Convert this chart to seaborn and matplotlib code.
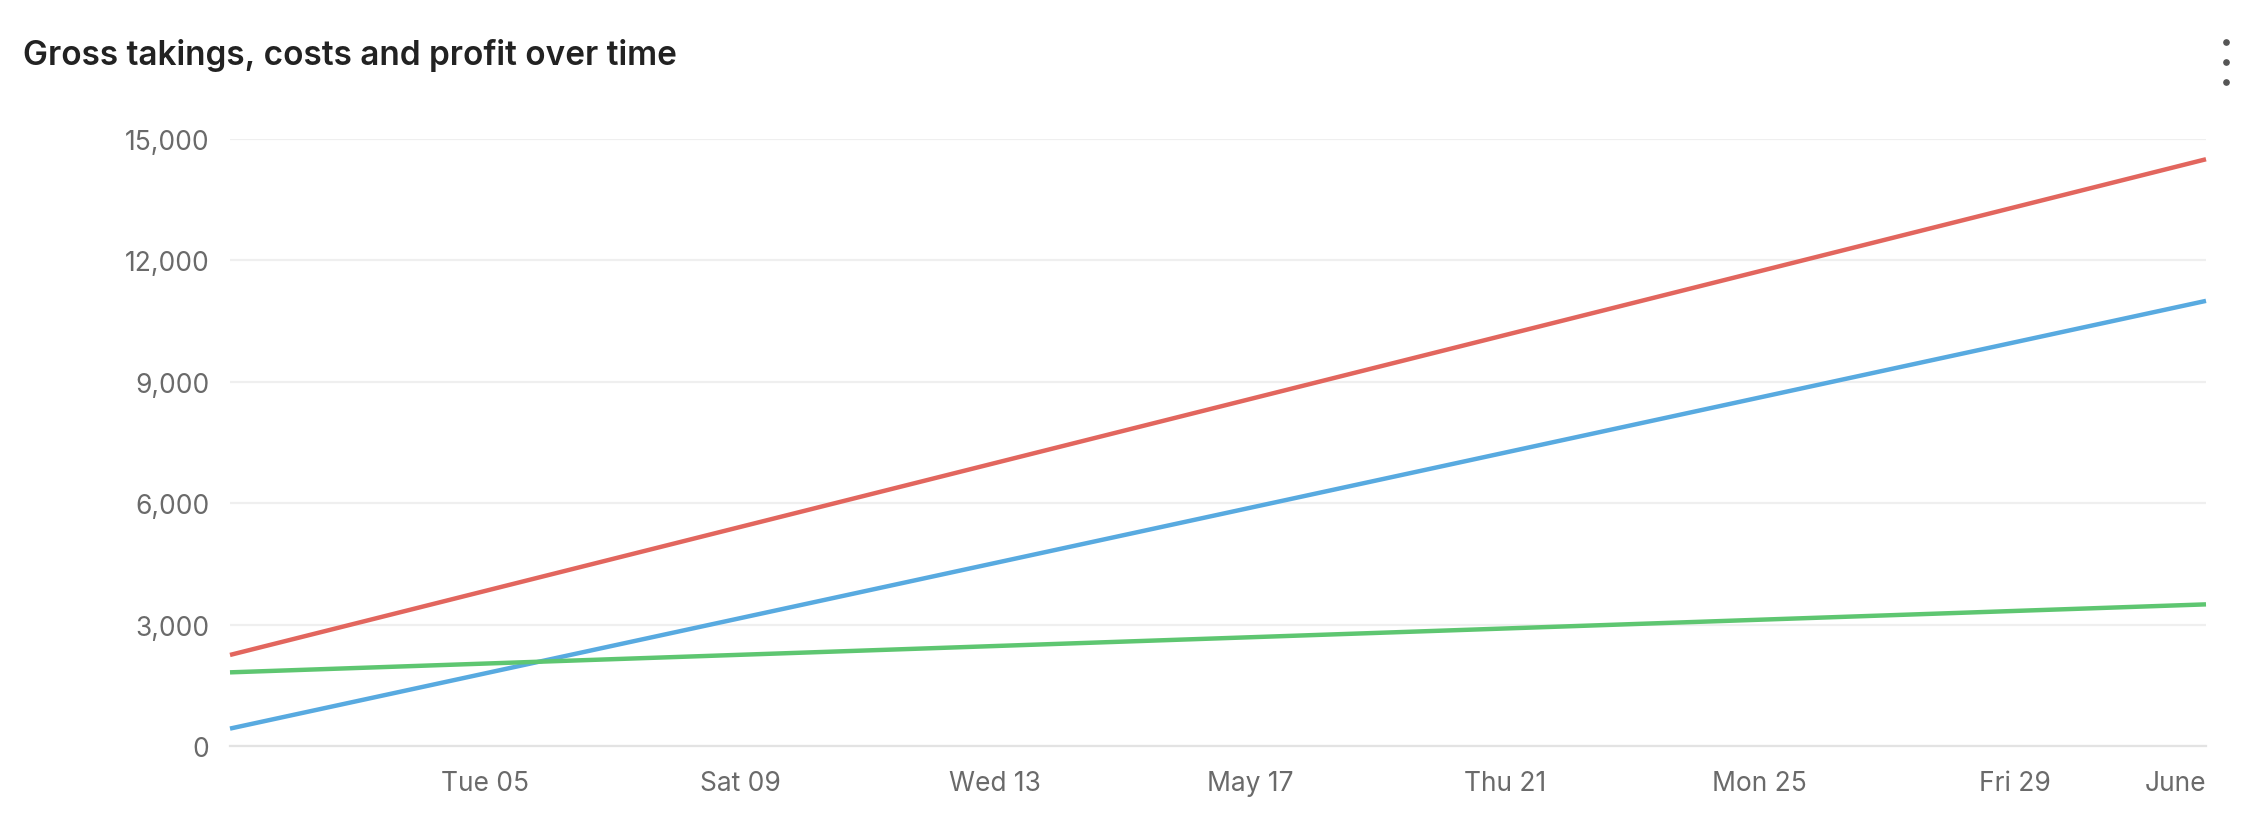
import matplotlib
matplotlib.use("Agg")
import matplotlib.pyplot as plt
import matplotlib.dates as mdates
from matplotlib.lines import Line2D
import pandas as pd
import seaborn as sns

# ---- data ----
dates = ["2026-05-01", "2026-06-01"]
gross_takings = [2250, 14500]
costs = [430, 11000]
profit = [1820, 3500]
series_names = ["Gross takings", "Costs", "Profit"]
series_colors = ["#E2665E", "#58AAE0", "#5EC671"]
tick_dates = ["2026-05-01", "2026-05-05", "2026-05-09", "2026-05-13", "2026-05-17",
              "2026-05-21", "2026-05-25", "2026-05-29", "2026-06-01"]
tick_labels = ["", "Tue 05", "Sat 09", "Wed 13", "May 17", "Thu 21", "Mon 25", "Fri 29", "June"]
y_ticks = [0, 3000, 6000, 9000, 12000, 15000]
title = "Gross takings, costs and profit over time"

df = pd.DataFrame({
    "date": pd.to_datetime(dates * 3),
    "value": gross_takings + costs + profit,
    "series": [series_names[0]] * len(dates) + [series_names[1]] * len(dates) + [series_names[2]] * len(dates),
})

sns.set_theme(style="white")
plt.rcParams["font.family"] = ["Inter", "DejaVu Sans"]

W, H = 2258, 828
fig = plt.figure(figsize=(W / 100, H / 100), dpi=100)
fig.patch.set_facecolor("white")
left, right, top, bottom = 230, 2206, 140, 747
ax = fig.add_axes([left / W, 1 - bottom / H, (right - left) / W, (bottom - top) / H])

sns.lineplot(data=df, x="date", y="value", hue="series", palette=series_colors,
             hue_order=series_names, linewidth=3.2, legend=False, ax=ax, zorder=3)
for ln in ax.lines:
    ln.set_clip_on(False)
    ln.set_solid_capstyle("butt")

ax.set_xlim(pd.Timestamp(tick_dates[0]), pd.Timestamp(tick_dates[-1]))
ax.set_ylim(0, 15000)
ax.set_xlabel("")
ax.set_ylabel("")

ax.set_yticks(y_ticks)
ax.set_yticklabels([f"{v:,}" for v in y_ticks])
ax.yaxis.grid(True, color="#EFEFEF", linewidth=1.6)
ax.xaxis.grid(False)
ax.set_axisbelow(True)

ax.set_xticks(pd.to_datetime(tick_dates))
ax.set_xticklabels(tick_labels)
xl = ax.get_xticklabels()
xl[-1].set_horizontalalignment("right")

for s in ["top", "right", "left"]:
    ax.spines[s].set_visible(False)
ax.spines["bottom"].set_color("#E3E3E3")
ax.spines["bottom"].set_linewidth(1.6)

ax.tick_params(axis="y", length=0, pad=15, labelsize=19, labelcolor="#6A6A6A")
ax.tick_params(axis="x", length=11, width=1.3, color="#E3E3E3", pad=6,
               labelsize=19, labelcolor="#6A6A6A")

fig.text(23 / W, 1 - 55 / H, title, fontsize=24, fontweight="semibold",
         color="#222222", ha="left", va="center")

for yy in [43, 63, 83]:
    fig.add_artist(Line2D([2226 / W], [1 - yy / H], marker="o", markersize=3.8,
                          color="#555555", linestyle="none", transform=fig.transFigure))

fig.savefig("out.png", dpi=100, facecolor="white")
